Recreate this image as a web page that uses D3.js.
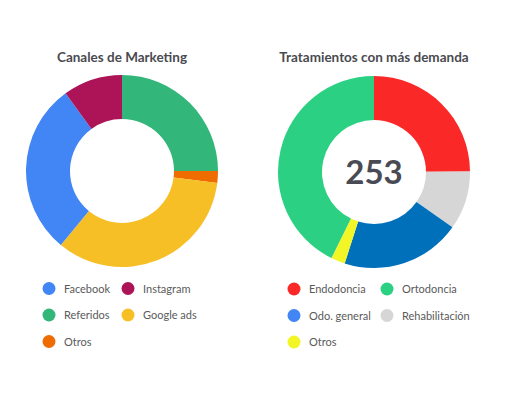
<!DOCTYPE html>
<html>
<head>
<meta charset="utf-8">
<script src="https://cdn.jsdelivr.net/npm/d3@7"></script>
<style>
  body { margin: 0; background: #fff; font-family: Lato, "Open Sans", sans-serif; }
</style>
</head>
<body>
<div id="chart"></div>
<script>
// --- DATA ---
// slices listed in drawing order (clockwise from 12 o'clock)
const marketingCats = ["Referidos", "Otros", "Google ads", "Facebook", "Instagram"];
const marketingVals = [25, 2, 34, 29, 10];
const marketingColors = ["#33b679", "#ef6c00", "#f6bf26", "#4285f4", "#ad1457"];
const marketingLegend = ["Facebook", "Instagram", "Referidos", "Google ads", "Otros"];

const tratCats = ["Endodoncia", "Rehabilitación", "Odo. general", "Otros", "Ortodoncia"];
const tratVals = [63, 25, 51, 6, 108];
const tratColors = ["#fb2828", "#d6d6d6", "#0070bb", "#f2f526", "#2bd083"];
const tratLegend = ["Endodoncia", "Ortodoncia", "Odo. general", "Rehabilitación", "Otros"];
const tratLegendColors = ["#fb2828", "#2bd083", "#4285f4", "#d6d6d6", "#f2f526"];

const width = 527;
const height = 395;

const svg = d3.select("#chart").append("svg")
  .attr("width", width)
  .attr("height", height);

const pie = d3.pie().sort(null).value(d => d.v);
const arc = d3.arc().innerRadius(52).outerRadius(96);

function drawDonut(cx, cy, title, cats, vals, colors) {
  const g = svg.append("g").attr("transform", `translate(${cx},${cy})`);
  const data = cats.map((c, i) => ({ c: c, v: vals[i], col: colors[i] }));
  g.selectAll("path")
    .data(pie(data))
    .enter()
    .append("path")
    .attr("d", arc)
    .attr("fill", d => d.data.col);

  svg.append("text")
    .attr("x", cx)
    .attr("y", 62)
    .attr("text-anchor", "middle")
    .attr("font-size", 13.5)
    .attr("font-weight", "bold")
    .attr("fill", "#4a4a50")
    .text(title);
  return g;
}

function drawLegend(x0, colGap, y0, names, colorOf) {
  names.forEach((n, i) => {
    const x = x0 + (i % 2) * colGap;
    const y = y0 + Math.floor(i / 2) * 26.5;
    svg.append("circle")
      .attr("cx", x).attr("cy", y).attr("r", 6.5)
      .attr("fill", colorOf(n, i));
    svg.append("text")
      .attr("x", x + 15).attr("y", y + 4)
      .attr("font-size", 11)
      .attr("fill", "#5a5a5a")
      .text(n);
  });
}

// left donut
drawDonut(122, 171, "Canales de Marketing", marketingCats, marketingVals, marketingColors);
drawLegend(49, 79, 288.5, marketingLegend,
  n => marketingColors[marketingCats.indexOf(n)]);

// right donut
const right = drawDonut(374, 172, "Tratamientos con más demanda", tratCats, tratVals, tratColors);
right.append("text")
  .attr("text-anchor", "middle")
  .attr("dy", "0.36em")
  .attr("font-size", 33)
  .attr("font-weight", "bold")
  .attr("fill", "#4a4a55")
  .text(d3.sum(tratVals));
drawLegend(294, 93, 289, tratLegend, (n, i) => tratLegendColors[i]);
</script>
</body>
</html>
